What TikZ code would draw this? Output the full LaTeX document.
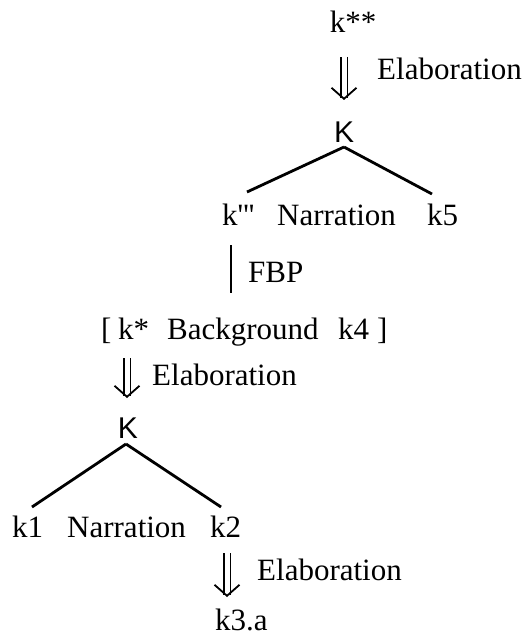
\documentclass[tikz,border=0pt]{standalone}
\usepackage{fontspec}
\setmainfont{Liberation Serif}[Ligatures=TeXOff]
\newfontfamily\kfont{Liberation Sans}
\usetikzlibrary{arrows.meta}
\tikzset{
  lbl/.style={inner sep=0pt, anchor=base west, font=\fontsize{31}{36}\selectfont},
  knode/.style={inner sep=0pt, anchor=base, font=\kfont\fontsize{30}{36}\selectfont},
  branch/.style={line width=2.8pt},
  fbp/.style={line width=2pt},
  elab/.style={double, double distance=5pt, line width=1.7pt,
    -{Straight Barb[length=11pt, width=25pt, line width=1.8pt]}},
}
\begin{document}
\begin{tikzpicture}[x=1pt, y=-1pt]
  \useasboundingbox (0,0) rectangle (523,639);
  % upper level
  \node[lbl, anchor=base] (kss) at (353,33) {k**};
  \node[lbl] (elabA) at (377,80) {Elaboration};
  \node[knode] (topK) at (344,143) {K};
  \node[lbl] (kppp) at (222,225) {k'''};
  \node[lbl] (narrA) at (277,225) {Narration};
  \node[lbl] (kfive) at (427,225) {k5};
  \draw[elab] ([xshift=-9pt,yshift=-24pt]kss.base) -- ([yshift=43pt]topK.base);
  \draw[branch] ([yshift=-4pt]topK.base) -- ([xshift=25pt,yshift=33pt]kppp.base west);
  \draw[branch] ([yshift=-4pt]topK.base) -- ([xshift=5pt,yshift=31pt]kfive.base west);
  % background segment
  \node[lbl] (lbrk) at (101,339) {[};
  \node[lbl] (kstar) at (118,339) {k*};
  \node[lbl] (backg) at (167,339) {Background};
  \node[lbl] (kfour) at (338,339) {k4};
  \node[lbl] (rbrk) at (377,339) {]};
  \draw[fbp] ([xshift=9pt,yshift=-20pt]kppp.base west) -- ([xshift=64pt,yshift=46pt]backg.base west);
  \node[lbl] (fbpl) at (248,282) {FBP};
  % lower level
  \node[lbl] (elabB) at (152,385) {Elaboration};
  \node[knode] (lowK) at (128,438) {K};
  \node[lbl] (kone) at (12,537) {k1};
  \node[lbl] (narrB) at (67,537) {Narration};
  \node[lbl] (ktwo) at (210,537) {k2};
  \draw[elab] ([xshift=9pt,yshift=-19pt]kstar.base west) -- ([xshift=-1pt,yshift=40pt]lowK.base);
  \draw[branch] ([xshift=-2pt,yshift=-6pt]lowK.base) -- ([xshift=20pt,yshift=30pt]kone.base west);
  \draw[branch] ([xshift=-2pt,yshift=-6pt]lowK.base) -- ([xshift=11pt,yshift=30pt]ktwo.base west);
  \node[lbl] (elabC) at (257,580) {Elaboration};
  \node[lbl] (kthree) at (215,630) {k3.a};
  \draw[elab] ([xshift=17pt,yshift=-16pt]ktwo.base west) -- ([xshift=12pt,yshift=33pt]kthree.base west);
\end{tikzpicture}
\end{document}
